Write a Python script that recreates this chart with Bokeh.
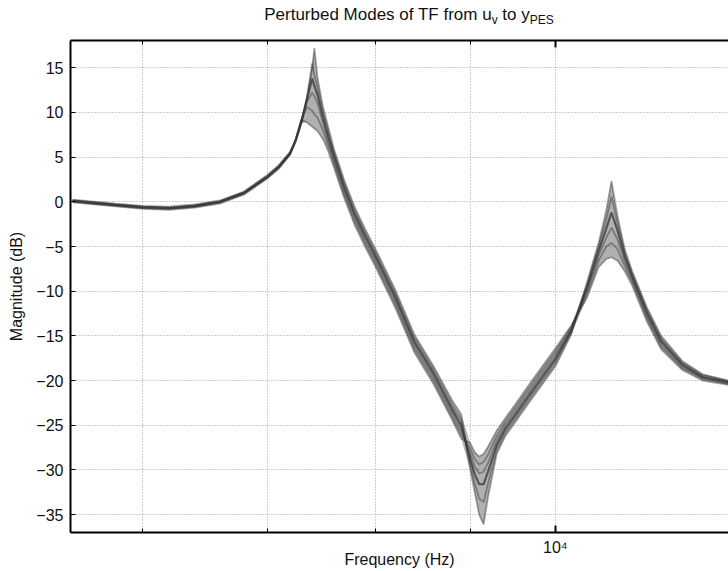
import numpy as np
from bokeh.plotting import figure
from bokeh.layouts import column
from bokeh.models import Range1d, FixedTicker, LogAxis, Div, CustomJSTickFormatter
from bokeh.embed import file_html
from bokeh.resources import INLINE

# ---------------- data ----------------
freq_hz = [5500, 5800, 6000, 6200, 6400, 6600, 6800, 7000, 7100, 7200,
           7250, 7300, 7350, 7400, 7420, 7450, 7500, 7550, 7600,
           7700, 7800, 7900, 8000,
           8200, 8400, 8600, 8800, 8900,
           9000, 9050, 9100, 9150, 9200, 9300, 9400,
           9550, 9700, 10000, 10200,
           10400, 10550, 10650, 10720, 10800, 10900, 11000,
           11200, 11400, 11700, 12000, 12400]

mode_1_db = [0.25, -0.2, -0.45, -0.55, -0.3, 0.15, 1.15, 3.0, 4.1, 5.6,
             7.0, 9.0, 11.6, 14.8, 17.2, 13.8, 10.6, 8.3, 6.0,
             2.4, -0.6, -3.0, -5.2,
             -9.8, -14.9, -18.4, -22.2, -23.8,
             -30.0, -32.5, -35.0, -36.1, -33.0, -28.2, -26.2,
             -24.2, -22.2, -18.4, -14.8,
             -9.0, -4.6, -1.0, 2.3, -1.6, -5.4, -7.8,
             -11.8, -15.0, -17.8, -19.3, -20.0]

mode_2_db = [0.15, -0.3, -0.55, -0.65, -0.4, 0.05, 1.05, 2.9, 4.0, 5.5,
             6.9, 8.9, 11.5, 15.5, 14.2, 12.8, 10.0, 7.8, 5.6,
             2.0, -1.0, -3.4, -5.6,
             -10.2, -15.3, -18.8, -22.7, -24.4,
             -29.4, -31.5, -33.2, -33.6, -31.5, -27.7, -25.8,
             -23.8, -21.8, -18.0, -14.6,
             -9.3, -5.0, -2.0, 0.6, -2.4, -5.8, -8.1,
             -12.1, -15.3, -18.0, -19.4, -20.1]

mode_3_db = [0.1, -0.35, -0.6, -0.7, -0.45, 0.0, 1.0, 2.8, 3.9, 5.4,
             6.8, 8.8, 11.3, 13.8, 13.0, 11.9, 9.4, 7.2, 5.2,
             1.6, -1.4, -3.8, -6.0,
             -10.6, -15.7, -19.2, -23.2, -25.0,
             -28.8, -30.5, -31.6, -31.6, -30.2, -27.2, -25.4,
             -23.4, -21.4, -17.6, -14.4,
             -9.6, -5.5, -3.0, -1.2, -3.2, -6.2, -8.4,
             -12.4, -15.6, -18.2, -19.6, -20.2]

mode_4_db = [0.05, -0.4, -0.65, -0.75, -0.5, -0.05, 0.95, 2.75, 3.85, 5.35,
             6.8, 8.9, 11.2, 12.2, 11.8, 11.0, 8.8, 6.7, 4.8,
             1.2, -1.8, -4.2, -6.4,
             -11.0, -16.1, -19.6, -23.6, -25.5,
             -28.2, -29.6, -30.4, -30.2, -29.2, -26.7, -25.0,
             -23.0, -21.0, -17.2, -14.2,
             -9.9, -6.0, -4.0, -2.9, -4.2, -6.7, -8.7,
             -12.7, -15.9, -18.4, -19.7, -20.3]

mode_5_db = [0.0, -0.45, -0.7, -0.8, -0.55, -0.1, 0.9, 2.7, 3.8, 5.3,
             6.9, 9.1, 10.6, 10.2, 9.8, 9.4, 8.0, 6.2, 4.4,
             0.8, -2.2, -4.6, -6.8,
             -11.4, -16.5, -20.0, -24.0, -26.0,
             -27.6, -28.8, -29.4, -29.1, -28.3, -26.2, -24.6,
             -22.6, -20.6, -16.8, -14.0,
             -10.3, -6.6, -5.0, -4.6, -5.3, -7.2, -9.0,
             -13.0, -16.2, -18.6, -19.8, -20.4]

mode_6_db = [-0.05, -0.5, -0.8, -0.9, -0.65, -0.2, 0.8, 2.6, 3.7, 5.3,
             7.0, 9.2, 8.9, 8.4, 8.2, 7.9, 7.0, 5.6, 3.9,
             0.4, -2.6, -5.0, -7.2,
             -11.8, -16.9, -20.4, -24.4, -26.5,
             -27.0, -28.0, -28.5, -28.2, -27.4, -25.6, -24.2,
             -22.2, -20.2, -16.4, -13.8,
             -10.7, -7.3, -6.4, -6.2, -6.6, -7.8, -9.4,
             -13.4, -16.5, -18.8, -20.0, -20.5]

y_ticks = [-35, -30, -25, -20, -15, -10, -5, 0, 5, 10, 15]
x_major_ticks = [10000]
x_minor_ticks = [6000, 7000, 8000, 9000]

title_html = ("Perturbed Modes of TF from u<sub>v</sub> to y<sub>PES</sub>")
x_label = "Frequency (Hz)"
y_label = "Magnitude (dB)"

FONT = "Liberation Sans"
TXT = "#111111"

# ---------------- title ----------------
title = Div(
    text=('<div style="font-family:\'Liberation Sans\',Arial,sans-serif;font-size:17px;'
          'color:#111;text-align:center;width:658px;margin-left:80px;padding-top:5px;'
          'line-height:normal;white-space:nowrap;">'
          + title_html.replace("<sub>", '<sub style="font-size:12px;">') + '</div>'),
    width=728, height=30, margin=(0, 0, 0, 0))

# ---------------- figure ----------------
p = figure(width=728, height=540, x_axis_type="log",
           x_range=Range1d(5486, 12391), y_range=Range1d(-37.0, 18.05),
           output_backend="svg", toolbar_location=None,
           min_border_left=70, min_border_right=0,
           min_border_top=10, min_border_bottom=38, margin=(0, 0, 0, 0))
p.outline_line_color = None
p.background_fill_color = "white"
p.border_fill_color = "white"

curves = [mode_1_db, mode_2_db, mode_3_db, mode_4_db, mode_5_db, mode_6_db]
stack = np.array(curves)
p.varea(x=freq_hz, y1=stack.min(axis=0), y2=stack.max(axis=0),
        fill_color="#7c7c7c", fill_alpha=0.6)
for c in curves:
    p.line(freq_hz, c, line_color="#3a3a3a", line_width=1.8, line_alpha=0.45)
p.line(freq_hz, mode_3_db, line_color="#333333", line_width=2.2, line_alpha=0.55)

# axes
xax = p.xaxis[0]
xax.ticker = FixedTicker(ticks=x_major_ticks, minor_ticks=x_minor_ticks)
xax.formatter = CustomJSTickFormatter(code="return '10\u2074';")
xax.major_label_text_font = FONT
xax.major_label_text_font_size = "16px"
xax.major_label_text_color = TXT
xax.major_label_standoff = 6
xax.major_tick_in = 7
xax.major_tick_out = 0
xax.minor_tick_in = 4
xax.minor_tick_out = 0
xax.axis_line_width = 2
xax.major_tick_line_width = 2
xax.axis_label = x_label
xax.axis_label_text_font = FONT
xax.axis_label_text_font_style = "normal"
xax.axis_label_text_font_size = "16px"
xax.axis_label_text_color = TXT
xax.axis_label_standoff = -8

yax = p.yaxis[0]
yax.ticker = FixedTicker(ticks=y_ticks)
yax.formatter = CustomJSTickFormatter(
    code="return tick < 0 ? '\u2212' + Math.abs(tick) : '' + tick;")
yax.major_label_text_font = FONT
yax.major_label_text_font_size = "16px"
yax.major_label_text_color = TXT
yax.major_label_standoff = 7
yax.major_tick_in = 5
yax.major_tick_out = 0
yax.minor_tick_line_color = None
yax.axis_line_width = 2
yax.axis_label = y_label
yax.axis_label_text_font = FONT
yax.axis_label_text_font_style = "normal"
yax.axis_label_text_font_size = "16px"
yax.axis_label_text_color = TXT
yax.axis_label_standoff = 8

top = LogAxis(ticker=FixedTicker(ticks=x_major_ticks, minor_ticks=x_minor_ticks),
              formatter=CustomJSTickFormatter(code="return '';"),
              major_tick_in=7, major_tick_out=0, minor_tick_in=4, minor_tick_out=0,
              major_label_standoff=0, axis_line_width=2, major_tick_line_width=2)
p.add_layout(top, "above")

for g in (p.xgrid[0], p.ygrid[0]):
    g.grid_line_color = "#9a9a9a"
    g.grid_line_dash = "1 2"
    g.grid_line_width = 1
p.xgrid[0].minor_grid_line_color = "#9a9a9a"
p.xgrid[0].minor_grid_line_dash = "1 2"

layout = column(title, p, spacing=0, margin=(0, 0, 0, 0))
open("out.html", "w").write(file_html(layout, INLINE))
